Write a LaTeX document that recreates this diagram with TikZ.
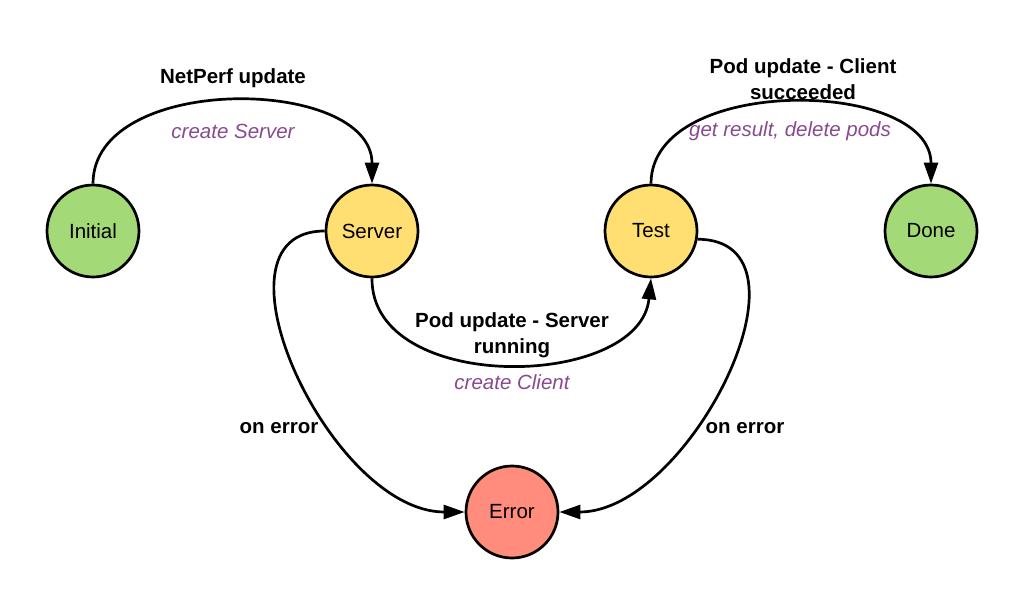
\documentclass[tikz,border=0pt]{standalone}
\usepackage{fontspec}
\setmainfont{Liberation Sans}
\usetikzlibrary{arrows.meta}
\definecolor{sgreen}{HTML}{A3D977}
\definecolor{syellow}{HTML}{FFDF71}
\definecolor{sred}{HTML}{FF8C7C}
\definecolor{spurple}{HTML}{884A8E}
\begin{document}
\begin{tikzpicture}[x=1pt,y=-1pt,
  state/.style={circle,draw=black,line width=2.7pt,minimum size=92pt,inner sep=0pt,font=\fontsize{20.5}{25}\selectfont},
  edge/.style={line width=2.7pt,-{Triangle[length=21pt,width=14pt]}},
  evt/.style={font=\fontsize{20.5}{25.5}\selectfont\bfseries,align=center,inner sep=0pt},
  act/.style={font=\fontsize{20.5}{25}\selectfont\itshape,text=spurple,inner sep=0pt}]
\useasboundingbox (0,0) rectangle (1024,605);
\node[state,fill=sgreen] (init) at (93,231) {Initial};
\node[state,fill=syellow] (server) at (372,231) {Server};
\node[state,fill=syellow] (test) at (651,231) {Test};
\node[state,fill=sgreen] (done) at (931,231) {Done};
\node[state,fill=sred] (error) at (512,512) {Error};

\draw[edge] (init.north) .. controls (93,72) and (372,76) .. (server.north);
\draw[edge] (test.north) .. controls (651,74) and (931,78) .. (done.north);
\draw[edge] (server.south) .. controls (371,395) and (640,390) .. (test.south);
\draw[edge] (server.west) .. controls (200,231) and (330,512) .. (error.west);
\draw[edge] (test.-10) .. controls (825,240) and (690,512) .. (error.east);

\node[evt] (l1) at (233,78) {NetPerf update};
\node[act] (a1) at (233,131) {create Server};
\node[evt] (l2) at (803,79) {Pod update - Client\\succeeded};
\node[act] (a2) at (790,131) {get result, delete pods};
\node[evt] (l3) at (512,335) {Pod update - Server\\running};
\node[act] (a3) at (512,382) {create Client};
\node[evt] (l4) at (279,428) {on error};
\node[evt] (l5) at (745,428) {on error};
\end{tikzpicture}
\end{document}
